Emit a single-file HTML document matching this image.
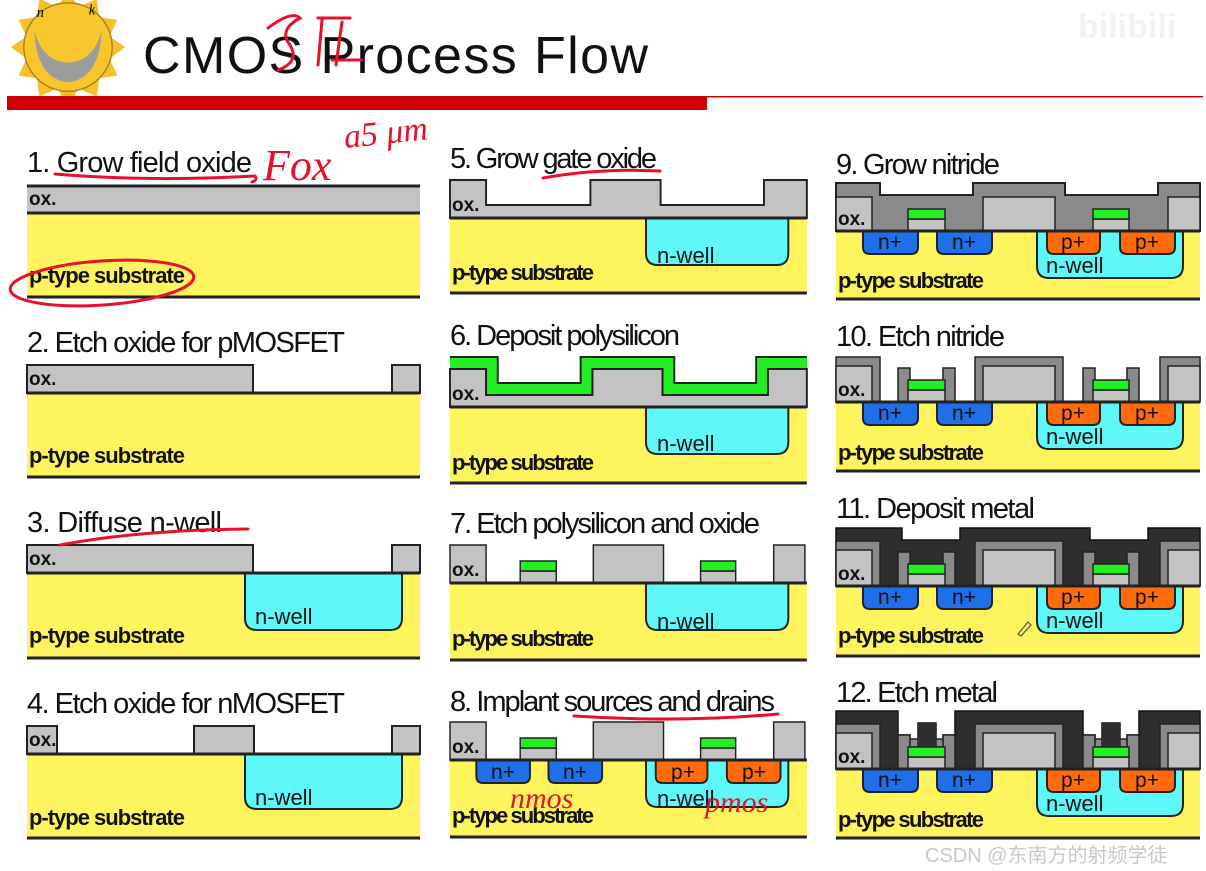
<!DOCTYPE html>
<html><head><meta charset="utf-8"><style>
html,body{margin:0;padding:0;background:#fff;}
svg{display:block;}
.t{font-family:"Liberation Sans Narrow","Liberation Sans",sans-serif;font-size:29px;fill:#111;}
.ox{font-family:"Liberation Sans Narrow","Liberation Sans",sans-serif;font-weight:bold;font-size:19px;fill:#111;}
.sb{font-family:"Liberation Sans Narrow","Liberation Sans",sans-serif;font-weight:bold;font-size:22px;fill:#111;}
.d{font-family:"Liberation Sans Narrow","Liberation Sans",sans-serif;font-size:21px;fill:#111;text-anchor:middle;}
.nw{font-family:"Liberation Sans Narrow","Liberation Sans",sans-serif;font-size:22px;fill:#111;}
.rd{font-family:"Liberation Serif",serif;font-style:italic;fill:#e8102a;}
</style></head><body>
<svg width="1206" height="871" viewBox="0 0 1206 871" xmlns="http://www.w3.org/2000/svg">
<defs>
<path id="nwell" d="M201,0 V35 Q201,47 213,47 H335 Q347,47 347,35 V0 Z" fill="#5ef8f8" stroke="#222" stroke-width="2"/>
<g id="dev" stroke="#222" stroke-width="2">
<path d="M27,0 V16 Q27,23 34,23 H75 Q82,23 82,16 V0 Z" fill="#1f6fe8"/>
<path d="M101,0 V16 Q101,23 108,23 H149 Q156,23 156,16 V0 Z" fill="#1f6fe8"/>
<path d="M211,0 V16 Q211,23 218,23 H257 Q264,23 264,16 V0 Z" fill="#ff6a0a"/>
<path d="M284,0 V16 Q284,23 291,23 H332 Q339,23 339,16 V0 Z" fill="#ff6a0a"/>
</g>
<g id="gates" stroke="#222" stroke-width="1.5">
<rect x="72" y="-12" width="37" height="12" fill="#c3c3c3"/>
<rect x="72" y="-22" width="37" height="10" fill="#22f022"/>
<rect x="257" y="-12" width="36" height="12" fill="#c3c3c3"/>
<rect x="257" y="-22" width="36" height="10" fill="#22f022"/>
</g>
<g id="ox3" stroke="#222" stroke-width="1.5" fill="#c3c3c3">
<rect x="0" y="-38" width="37" height="38"/>
<rect x="147" y="-38" width="72" height="38"/>
<rect x="332" y="-38" width="32" height="38"/>
</g>
<g id="nit10">
<g fill="#8a8a8a" stroke="#222" stroke-width="1.5">
<rect x="0" y="-45" width="44" height="45"/>
<rect x="139" y="-45" width="88" height="45"/>
<rect x="324" y="-45" width="40" height="45"/>
<rect x="62" y="-34" width="12" height="34"/>
<rect x="107" y="-34" width="12" height="34"/>
<rect x="247" y="-34" width="12" height="34"/>
<rect x="291" y="-34" width="12" height="34"/>
</g>
<g fill="#c3c3c3" stroke="#222" stroke-width="1.5">
<rect x="0" y="-36" width="36" height="36"/>
<rect x="147" y="-36" width="72" height="36"/>
<rect x="332" y="-36" width="32" height="36"/>
</g>
</g>
</defs>

<!-- header -->
<g transform="translate(68,47) scale(1.3) translate(-68,-45)">
<polygon points="68,2 76,14 90,8 92,22 106,24 100,37 112,45 100,54 106,67 92,69 90,83 76,77 68,92 60,77 46,83 44,69 30,67 36,54 24,45 36,37 30,24 44,22 46,8 60,14" fill="#f5c02a"/>
<circle cx="68" cy="45" r="34" fill="#f7c52c" stroke="#a08020" stroke-width="1"/>
<path d="M42,32 Q44,70 68,72 Q92,70 94,32 Q88,56 68,57 Q48,56 42,32 Z" fill="#9c9c9c"/>
<text x="44" y="22" font-size="11" font-family="Liberation Serif,serif" font-style="italic">n</text>
<text x="84" y="20" font-size="11" font-family="Liberation Serif,serif" font-style="italic">k</text>
</g>
<text x="143" y="73" font-family="Liberation Sans,sans-serif" font-size="52" fill="#111" textLength="505">CMOS Process Flow</text>
<text x="1078" y="38" font-family="Liberation Sans,sans-serif" font-size="34" font-weight="bold" fill="#f2f2f2">bilibili</text>
<rect x="7" y="96" width="700" height="14" fill="#cc0000"/>
<rect x="707" y="96" width="496" height="1.5" fill="#cc0000"/>
<g fill="none" stroke="#e8102a" stroke-width="3" stroke-linecap="round">
<path d="M268,28 Q292,10 300,18 Q278,30 290,45 Q300,62 278,70"/>
<path d="M318,18 H350 M322,20 L318,65 M342,22 L336,65 M332,60 H362"/>
</g>

<!-- Column 1 -->
<text class="t" x="27" y="172" textLength="225">1. Grow field oxide</text>
<rect x="27" y="185" width="393" height="28" fill="#c3c3c3"/>
<rect x="27" y="213" width="393" height="84" fill="#fdf45e"/>
<line x1="27" y1="186" x2="420" y2="186" stroke="#222" stroke-width="3"/>
<line x1="27" y1="213" x2="420" y2="213" stroke="#222" stroke-width="3"/>
<line x1="27" y1="297" x2="420" y2="297" stroke="#222" stroke-width="3"/>
<text class="ox" x="29" y="205">ox.</text>
<text class="sb" x="29" y="283" textLength="156">p-type substrate</text>

<text class="t" x="27" y="352" textLength="318">2. Etch oxide for pMOSFET</text>
<g fill="#c3c3c3" stroke="#222" stroke-width="2"><rect x="27" y="365" width="226" height="28"/><rect x="392" y="365" width="28" height="28"/></g>
<rect x="27" y="393" width="393" height="84" fill="#fdf45e"/>
<line x1="27" y1="393" x2="420" y2="393" stroke="#222" stroke-width="3"/>
<line x1="27" y1="477" x2="420" y2="477" stroke="#222" stroke-width="3"/>
<text class="ox" x="29" y="385">ox.</text>
<text class="sb" x="29" y="463" textLength="156">p-type substrate</text>

<text class="t" x="27" y="532" textLength="195">3. Diffuse n-well</text>
<g fill="#c3c3c3" stroke="#222" stroke-width="2"><rect x="27" y="545" width="226" height="28"/><rect x="392" y="545" width="28" height="28"/></g>
<rect x="27" y="573" width="393" height="85" fill="#fdf45e"/>
<path d="M245,573 V618 Q245,630 257,630 H390 Q402,630 402,618 V573 Z" fill="#5ef8f8" stroke="#222" stroke-width="2"/>
<line x1="27" y1="573" x2="420" y2="573" stroke="#222" stroke-width="3"/>
<line x1="27" y1="658" x2="420" y2="658" stroke="#222" stroke-width="3"/>
<text class="ox" x="29" y="565">ox.</text>
<text class="nw" x="255" y="624">n-well</text>
<text class="sb" x="29" y="643" textLength="156">p-type substrate</text>

<text class="t" x="27" y="713" textLength="318">4. Etch oxide for nMOSFET</text>
<g fill="#c3c3c3" stroke="#222" stroke-width="2"><rect x="27" y="726" width="30" height="28"/><rect x="194" y="726" width="60" height="28"/><rect x="392" y="726" width="28" height="28"/></g>
<rect x="27" y="754" width="393" height="84" fill="#fdf45e"/>
<path d="M245,754 V797 Q245,809 257,809 H390 Q402,809 402,797 V754 Z" fill="#5ef8f8" stroke="#222" stroke-width="2"/>
<line x1="27" y1="754" x2="420" y2="754" stroke="#222" stroke-width="3"/>
<line x1="27" y1="838" x2="420" y2="838" stroke="#222" stroke-width="3"/>
<text class="ox" x="29" y="746">ox.</text>
<text class="nw" x="255" y="805">n-well</text>
<text class="sb" x="29" y="825" textLength="156">p-type substrate</text>

<!-- Column 2 -->
<text class="t" x="450" y="168" textLength="207">5. Grow gate oxide</text>
<g transform="translate(450,218) scale(0.975,1)">
<path d="M0,-38 H37 V-13 H144 V-38 H216 V-13 H322 V-38 H366 V0 H0 Z" fill="#c3c3c3" stroke="#222" stroke-width="2"/>
<rect x="0" y="0" width="366" height="75" fill="#fdf45e"/>
<use href="#nwell"/>
<line x1="0" y1="0" x2="366" y2="0" stroke="#222" stroke-width="3"/>
<line x1="0" y1="75" x2="366" y2="75" stroke="#222" stroke-width="3"/>
</g>
<text class="ox" x="452" y="211">ox.</text>
<text class="nw" x="657" y="263">n-well</text>
<text class="sb" x="452" y="280" textLength="142">p-type substrate</text>

<text class="t" x="450" y="345" textLength="230">6. Deposit polysilicon</text>
<g transform="translate(450,407) scale(0.975,1)">
<path d="M0,-38 H37 V-12 H146 V-38 H218 V-12 H326 V-38 H366 V0 H0 Z" fill="#c3c3c3" stroke="#222" stroke-width="2"/>
<path d="M0,-44 H43 V-18 H140 V-44 H224 V-18 H320 V-44 H366" fill="none" stroke="#222" stroke-width="14"/>
<path d="M0,-44 H43 V-18 H140 V-44 H224 V-18 H320 V-44 H366" fill="none" stroke="#22f022" stroke-width="10"/>
<rect x="0" y="0" width="366" height="76" fill="#fdf45e"/>
<use href="#nwell"/>
<line x1="0" y1="0" x2="366" y2="0" stroke="#222" stroke-width="3"/>
<line x1="0" y1="76" x2="366" y2="76" stroke="#222" stroke-width="3"/>
</g>
<text class="ox" x="452" y="400">ox.</text>
<text class="nw" x="657" y="451">n-well</text>
<text class="sb" x="452" y="470" textLength="142">p-type substrate</text>

<text class="t" x="450" y="533" textLength="310">7. Etch polysilicon and oxide</text>
<g transform="translate(450,583) scale(0.975,1)">
<rect x="0" y="0" width="366" height="77" fill="#fdf45e"/>
<use href="#nwell"/>
<use href="#ox3"/>
<use href="#gates"/>
<line x1="0" y1="0" x2="366" y2="0" stroke="#222" stroke-width="3"/>
<line x1="0" y1="77" x2="366" y2="77" stroke="#222" stroke-width="3"/>
</g>
<text class="ox" x="452" y="576">ox.</text>
<text class="nw" x="657" y="629">n-well</text>
<text class="sb" x="452" y="646" textLength="142">p-type substrate</text>

<text class="t" x="450" y="711" textLength="325">8. Implant sources and drains</text>
<g transform="translate(450,760) scale(0.975,1)">
<rect x="0" y="0" width="366" height="77" fill="#fdf45e"/>
<use href="#nwell"/>
<use href="#dev"/>
<use href="#ox3"/>
<use href="#gates"/>
<line x1="0" y1="0" x2="366" y2="0" stroke="#222" stroke-width="3"/>
<line x1="0" y1="77" x2="366" y2="77" stroke="#222" stroke-width="3"/>
</g>
<text class="ox" x="452" y="753">ox.</text>
<text class="d" x="503" y="779">n+</text><text class="d" x="575" y="779">n+</text>
<text class="d" x="683" y="779">p+</text><text class="d" x="754" y="779">p+</text>
<text class="nw" x="657" y="806">n-well</text>
<text class="sb" x="452" y="823" textLength="142">p-type substrate</text>

<!-- Column 3 -->
<text class="t" x="836" y="174" textLength="164">9. Grow nitride</text>
<g transform="translate(836,231)">
<path d="M0,-48 H44 V-36 H137 V-48 H229 V-36 H322 V-48 H364 V0 H0 Z" fill="#8a8a8a" stroke="#222" stroke-width="2"/>
<g fill="#c3c3c3" stroke="#222" stroke-width="1.5"><rect x="0" y="-34" width="36" height="34"/><rect x="147" y="-34" width="72" height="34"/><rect x="332" y="-34" width="32" height="34"/></g>
<rect x="0" y="0" width="364" height="68" fill="#fdf45e"/>
<use href="#nwell"/><use href="#dev"/><use href="#gates"/>
<line x1="0" y1="0" x2="364" y2="0" stroke="#222" stroke-width="3"/>
<line x1="0" y1="68" x2="364" y2="68" stroke="#222" stroke-width="3"/>
</g>
<text class="ox" x="838" y="225">ox.</text>
<text class="d" x="890" y="249">n+</text><text class="d" x="964" y="249">n+</text>
<text class="d" x="1073" y="249">p+</text><text class="d" x="1147" y="249">p+</text>
<text class="nw" x="1046" y="273">n-well</text>
<text class="sb" x="838" y="288" textLength="146">p-type substrate</text>

<text class="t" x="836" y="346" textLength="169">10. Etch nitride</text>
<g transform="translate(836,402)">
<rect x="0" y="0" width="364" height="69" fill="#fdf45e"/>
<use href="#nwell"/><use href="#dev"/>
<use href="#nit10"/><use href="#gates"/>
<line x1="0" y1="0" x2="364" y2="0" stroke="#222" stroke-width="3"/>
<line x1="0" y1="69" x2="364" y2="69" stroke="#222" stroke-width="3"/>
</g>
<text class="ox" x="838" y="396">ox.</text>
<text class="d" x="890" y="420">n+</text><text class="d" x="964" y="420">n+</text>
<text class="d" x="1073" y="420">p+</text><text class="d" x="1147" y="420">p+</text>
<text class="nw" x="1046" y="444">n-well</text>
<text class="sb" x="838" y="460" textLength="146">p-type substrate</text>

<text class="t" x="836" y="518" textLength="199">11. Deposit metal</text>
<g transform="translate(836,586)">
<path d="M0,-58 H66 V-46 H124 V-58 H254 V-46 H312 V-58 H364 V0 H0 Z" fill="#2e2e2e" stroke="#111" stroke-width="1.5"/>
<rect x="0" y="0" width="364" height="70" fill="#fdf45e"/>
<use href="#nwell"/><use href="#dev"/>
<use href="#nit10"/><use href="#gates"/>
<line x1="0" y1="0" x2="364" y2="0" stroke="#222" stroke-width="3"/>
<line x1="0" y1="70" x2="364" y2="70" stroke="#222" stroke-width="3"/>
</g>
<text class="ox" x="838" y="580">ox.</text>
<text class="d" x="890" y="604">n+</text><text class="d" x="964" y="604">n+</text>
<text class="d" x="1073" y="604">p+</text><text class="d" x="1147" y="604">p+</text>
<text class="nw" x="1046" y="628">n-well</text>
<text class="sb" x="838" y="643" textLength="146">p-type substrate</text>
<path d="M1018,634 L1028,622 L1031,625 L1021,636 Z" fill="none" stroke="#555" stroke-width="1.2"/>

<text class="t" x="836" y="702" textLength="162">12. Etch metal</text>
<g transform="translate(836,769)">
<path d="M0,-58 H62 V-34 H74 V-22 H82 V-46 H100 V-22 H107 V-34 H119 V-58 H247 V-34 H259 V-22 H266 V-46 H284 V-22 H291 V-34 H303 V-58 H364 V0 H0 Z" fill="#2e2e2e" stroke="#111" stroke-width="1.5"/>
<rect x="0" y="0" width="364" height="69" fill="#fdf45e"/>
<use href="#nwell"/><use href="#dev"/>
<use href="#nit10"/>
<g fill="#8a8a8a" stroke="#222" stroke-width="1.5"><rect x="74" y="-30" width="8" height="8"/><rect x="100" y="-30" width="7" height="8"/><rect x="259" y="-30" width="7" height="8"/><rect x="284" y="-30" width="7" height="8"/></g>
<rect x="82" y="-46" width="18" height="24" fill="#2e2e2e"/>
<rect x="266" y="-46" width="18" height="24" fill="#2e2e2e"/>
<use href="#gates"/>
<line x1="0" y1="0" x2="364" y2="0" stroke="#222" stroke-width="3"/>
<line x1="0" y1="69" x2="364" y2="69" stroke="#222" stroke-width="3"/>
</g>
<text class="ox" x="838" y="763">ox.</text>
<text class="d" x="890" y="787">n+</text><text class="d" x="964" y="787">n+</text>
<text class="d" x="1073" y="787">p+</text><text class="d" x="1147" y="787">p+</text>
<text class="nw" x="1046" y="811">n-well</text>
<text class="sb" x="838" y="827" textLength="146">p-type substrate</text>

<!-- red annotations -->
<g fill="none" stroke="#e8102a" stroke-width="3" stroke-linecap="round">
<path d="M55,174 Q150,182 255,176 Q258,180 252,182"/>
<ellipse cx="102" cy="283" rx="92" ry="22" transform="rotate(-4 102 283)"/>
<path d="M60,545 Q140,530 248,529"/>
<path d="M543,178 Q600,168 660,171"/>
<path d="M574,716 Q680,723 778,714"/>
</g>
<text class="rd" x="263" y="180" font-size="44">Fox</text>
<text class="rd" x="345" y="148" font-size="34" transform="rotate(-6 345 148)">a5 μm</text>
<text class="rd" x="510" y="808" font-size="30">nmos</text>
<text class="rd" x="705" y="812" font-size="30">pmos</text>

<text x="925" y="862" font-family="Liberation Sans,'Noto Sans CJK SC',sans-serif" font-size="20" fill="#c8c8c8">CSDN @东南方的射频学徒</text>
</svg>
</body></html>
